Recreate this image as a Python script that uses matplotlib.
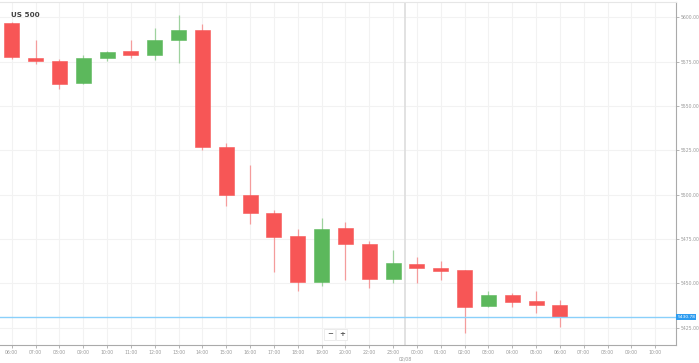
import numpy as np
import matplotlib
matplotlib.use('Agg')
import matplotlib.pyplot as plt

# Velas horárias do US 500 (abertura, máxima, mínima, fechamento)
horas = ['06:00', '07:00', '08:00', '09:00', '10:00', '11:00', '12:00', '13:00',
         '14:00', '15:00', '16:00', '17:00', '18:00', '19:00', '20:00', '22:00',
         '23:00', '00:00', '01:00', '02:00', '03:00', '04:00', '05:00', '06:00']
horas_vazias = ['07:00', '08:00', '09:00', '10:00']

abertura = [5596.7, 5577.1, 5575.4, 5562.9, 5577.0, 5581.3, 5578.8, 5587.1,
            5592.9, 5527.1, 5499.8, 5489.5, 5476.9, 5450.6, 5481.2, 5472.2,
            5452.4, 5460.9, 5458.8, 5457.5, 5437.4, 5443.4, 5440.0, 5437.6]
maxima = [5597.2, 5587.3, 5576.4, 5578.8, 5581.1, 5587.3, 5594.2, 5601.4,
          5596.3, 5529.0, 5516.8, 5491.4, 5480.5, 5486.7, 5484.6, 5473.9,
          5468.8, 5465.0, 5462.6, 5457.6, 5445.5, 5444.4, 5445.8, 5440.6]
minima = [5576.4, 5573.8, 5559.5, 5562.3, 5575.3, 5577.0, 5576.0, 5574.5,
          5525.2, 5493.6, 5483.5, 5456.6, 5445.8, 5448.6, 5451.9, 5447.2,
          5450.3, 5450.3, 5451.9, 5422.1, 5436.5, 5436.5, 5433.4, 5425.2]
fechamento = [5577.5, 5575.4, 5562.6, 5577.0, 5580.7, 5579.0, 5587.3, 5592.8,
              5527.1, 5499.8, 5489.5, 5476.3, 5450.6, 5480.6, 5472.0, 5452.6,
              5461.3, 5458.8, 5456.9, 5436.8, 5443.4, 5439.6, 5437.8, 5430.78]
preco_atual = 5430.78
niveis = [5425, 5450, 5475, 5500, 5525, 5550, 5575, 5600]

VERDE = '#5cb85c'
VERMELHO = '#f75656'
GRADE = '#f2f2f2'
TEXTO = '#999999'


def main():
    fig = plt.figure(figsize=(6.99, 3.63), dpi=100)
    ax = fig.add_axes([0.0, 0.0496, 0.967, 0.945])

    x = np.arange(len(horas))
    ab = np.array(abertura)
    fe = np.array(fechamento)
    cores = [VERDE if f >= a else VERMELHO for a, f in zip(ab, fe)]

    # pavios
    ax.vlines(x, minima, maxima, colors=cores, linewidth=0.9, alpha=0.55, zorder=2)
    # corpos
    altura = fe - ab
    altura = np.where(np.abs(altura) < 0.8, np.sign(altura + 1e-9) * 0.8, altura)
    ax.bar(x, altura, bottom=ab, width=0.63, color=cores, edgecolor=cores,
           linewidth=0.4, zorder=3)

    # preço atual
    ax.axhline(preco_atual, color='#8ad0fa', linewidth=1.0, zorder=4)
    ax.text(1.002, preco_atual, f'{preco_atual:.2f}', transform=ax.get_yaxis_transform(),
            fontsize=3.2, color='white', va='center', ha='left',
            bbox=dict(boxstyle='square,pad=0.25', fc='#2d9cf0', ec='none'), clip_on=False, zorder=5)

    # separador de dia
    ax.axvline(16.5, color='#dddddd', linewidth=1.2, zorder=1)
    ax.text(16.5, -0.042, '02/08', transform=ax.get_xaxis_transform(), fontsize=3.3,
            color=TEXTO, ha='center', va='center')

    todas = horas + horas_vazias
    ax.set_xticks(np.arange(len(todas)))
    ax.set_xticklabels(todas)
    ax.set_xlim(-0.49, 27.87)
    ax.set_ylim(5415.2, 5608.7)
    ax.set_yticks(niveis)
    ax.set_yticklabels([f'{v:.2f}' for v in niveis])
    ax.yaxis.tick_right()

    ax.grid(True, color=GRADE, linewidth=0.8, zorder=0)
    ax.set_axisbelow(True)
    ax.tick_params(axis='both', labelsize=3.3, colors='#aaaaaa', labelcolor=TEXTO,
                   length=2, width=0.6, pad=1.5)
    ax.spines['left'].set_visible(False)
    ax.spines['top'].set_color('#e6e6e6')
    ax.spines['right'].set_color('#aaaaaa')
    ax.spines['bottom'].set_color('#aaaaaa')

    ax.text(0.016, 0.97, 'US 500', transform=ax.transAxes, fontsize=5.2,
            fontweight='bold', color='#444444', ha='left', va='top')

    # botões de zoom
    for xb, s in [(13.35, '\u2212'), (13.85, '+')]:
        ax.text(xb, 0.031, s, transform=ax.get_xaxis_transform(), fontsize=5,
                color='#555555', ha='center', va='center', fontweight='bold',
                bbox=dict(boxstyle='square,pad=0.35', fc='white', ec='#e4e4e4', lw=0.5))

    fig.savefig('out.png', dpi=100)


if __name__ == "__main__":
    main()
